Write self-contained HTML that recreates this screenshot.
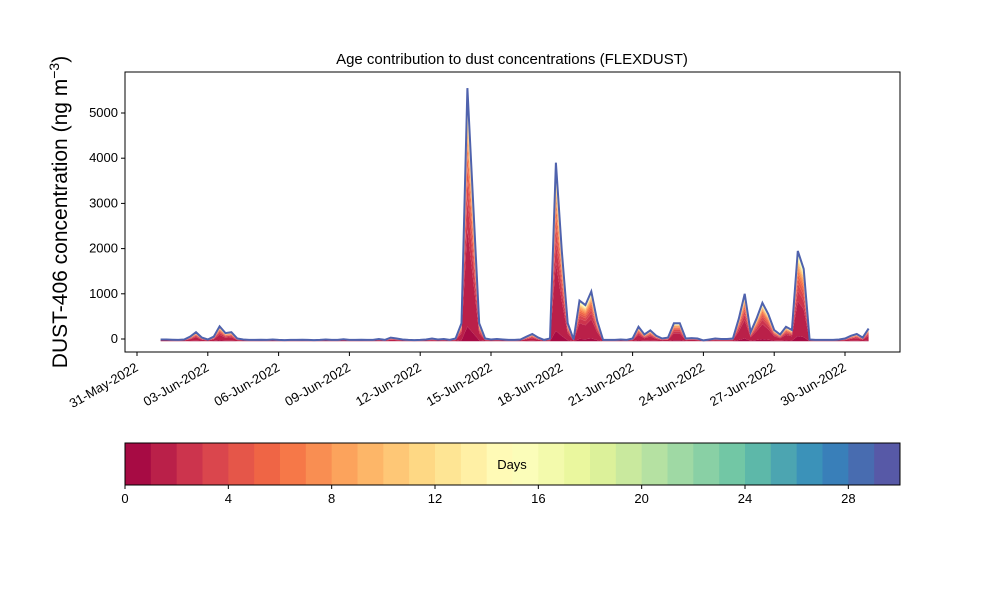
<!DOCTYPE html>
<html><head><meta charset="utf-8"><style>
body{margin:0;background:#fff;font-family:"Liberation Sans",sans-serif}
svg text{font-family:"Liberation Sans",sans-serif}
</style></head><body>
<svg id="chart" width="1000" height="600" xmlns="http://www.w3.org/2000/svg">
<text x="512" y="64" text-anchor="middle" font-size="15">Age contribution to dust concentrations (FLEXDUST)</text>
<text transform="translate(67,212) rotate(-90)" text-anchor="middle" font-size="21">DUST-406 concentration (ng m<tspan baseline-shift="super" font-size="14">−3</tspan>)</text>
<g id="areas"></g>
<g id="axes"></g>
<g id="cbar"></g>
</svg>
<script>
const startDay = 1.0; // days after 31-May-2022
const stepDay = 0.25;
const totals = [40,40,35,30,40,100,200,80,40,100,330,180,200,60,40,30,
30,35,30,40,30,25,30,30,35,30,25,30,40,30,30,45,30,30,35,30,30,50,30,
80,60,40,30,25,30,40,60,40,50,30,60,400,5600,3000,400,60,40,50,40,30,30,40,100,160,80,30,60,3950,2000,400,40,900,800,1100,450,30,30,30,40,30,60,320,150,240,120,60,80,400,400,60,70,60,20,40,60,50,50,60,500,1050,200,500,850,600,250,150,320,250,2000,1600,40,30,30,30,30,40,60,120,160,80,280];
const ageWeights = [0.06,0.4,0.12,0.08,0.06,0.05,0.04,0.035,0.03,0.025,0.02,0.018,0.015,0.012,0.01,0.008,0.007,0.006,0.005,0.004,0.004,0.003,0.003,0.003,0.003,0.003,0.003,0.003,0.003,0.006];
const yTicks = [0,1000,2000,3000,4000,5000];
const xTickLabels = ["31-May-2022","03-Jun-2022","06-Jun-2022","09-Jun-2022","12-Jun-2022","15-Jun-2022","18-Jun-2022","21-Jun-2022","24-Jun-2022","27-Jun-2022","30-Jun-2022"];
const xTickDays = [0,3,6,9,12,15,18,21,24,27,30];
const cbarTicks = [0,4,8,12,16,20,24,28];

const NS="http://www.w3.org/2000/svg";
const X0=125,X1=900,Y0=72,Y1=352;
const xs=d=>137+23.6*d;
const ys=v=>339-v*0.0452;
const spec=["#9e0142","#d53e4f","#f46d43","#fdae61","#fee08b","#ffffbf","#e6f598","#abdda4","#66c2a5","#3288bd","#5e4fa2"];
function hex(h){return [1,3,5].map(i=>parseInt(h.substr(i,2),16));}
function cmap(t){const p=t*10,i=Math.min(9,Math.floor(p)),f=p-i;const a=hex(spec[i]),b=hex(spec[i+1]);return `rgb(${a.map((v,k)=>Math.round(v+(b[k]-v)*f)).join(",")})`;}
function mk(tag,attrs,parent){const e=document.createElementNS(NS,tag);for(const k in attrs)e.setAttribute(k,attrs[k]);parent.appendChild(e);return e;}
const wsum=ageWeights.reduce((a,b)=>a+b,0);
const areas=document.getElementById('areas');
let cum=totals.map(()=>0);
const base=-50;
for(let k=0;k<ageWeights.length;k++){
  const lo=cum.slice();
  cum=cum.map((c,i)=>c+totals[i]*ageWeights[k]/wsum);
  let d="";
  cum.forEach((v,i)=>{d+=(i?"L":"M")+xs(startDay+i*stepDay).toFixed(1)+","+ys(v+base).toFixed(1);});
  for(let i=lo.length-1;i>=0;i--)d+="L"+xs(startDay+i*stepDay).toFixed(1)+","+ys(lo[i]+base).toFixed(1);
  const p=mk('path',{d:d+"Z",fill:cmap((k+0.5)/30),stroke:'none'},areas);
  
  
}
let ld="";
totals.forEach((v,i)=>{ld+=(i?"L":"M")+xs(startDay+i*stepDay).toFixed(1)+","+ys(v+base).toFixed(1);});
const line=mk('path',{d:ld,fill:'none',stroke:'#4f62ad','stroke-width':2},areas);



const ax=document.getElementById('axes');
const frame=mk('rect',{x:X0,y:Y0,width:X1-X0,height:Y1-Y0,fill:'none',stroke:'#000','stroke-width':1},ax);


yTicks.forEach(v=>{
  const y=ys(v);
  mk('line',{x1:X0-4,x2:X0,y1:y,y2:y,stroke:'#000'},ax);
  const t=mk('text',{x:X0-7,y:y+4,'text-anchor':'end','font-size':13},ax);t.textContent=v;
  
  
});
xTickDays.forEach((d,i)=>{
  const x=xs(d);
  mk('line',{x1:x,x2:x,y1:Y1,y2:Y1+4,stroke:'#000'},ax);
  const t=mk('text',{x:0,y:0,'text-anchor':'end','font-size':13,transform:`translate(${x+2},${Y1+18}) rotate(-30)`},ax);
  t.textContent=xTickLabels[i];
  
  
});

const cb=document.getElementById('cbar');
const CX0=125,CX1=900,CY0=443,CY1=485,cw=(CX1-CX0)/30;
for(let k=0;k<30;k++){
  const r=mk('rect',{x:CX0+k*cw,y:CY0,width:cw+0.5,height:CY1-CY0,fill:cmap((k+0.5)/30)},cb);
  
  
}
const cf=mk('rect',{x:CX0,y:CY0,width:CX1-CX0,height:CY1-CY0,fill:'none',stroke:'#000'},cb);


const dl=mk('text',{x:512,y:469,'text-anchor':'middle','font-size':13},cb);dl.textContent="Days";


cbarTicks.forEach(v=>{
  const x=CX0+v*cw;
  mk('line',{x1:x,x2:x,y1:CY1,y2:CY1+4,stroke:'#000'},cb);
  const t=mk('text',{x:x,y:CY1+18,'text-anchor':'middle','font-size':13},cb);t.textContent=v;
  
  
});
</script>
</body></html>
